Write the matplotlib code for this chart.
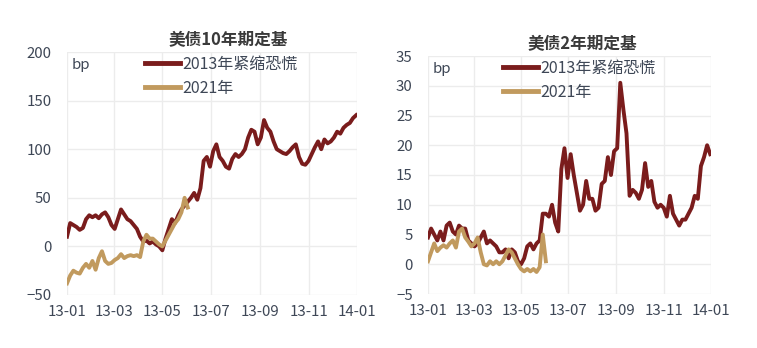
import matplotlib
matplotlib.use("Agg")
import matplotlib.pyplot as plt
import matplotlib.dates as mdates
import pandas as pd
import numpy as np

plt.rcParams['font.family'] = ['Noto Sans CJK SC', 'DejaVu Sans']

# ---------------- data ----------------
titles = ["美债10年期定基", "美债2年期定基"]
series_names = ["2013年紧缩恐慌", "2021年"]
unit = "bp"

dates_2013 = pd.date_range("2013-01-01", "2013-12-31", freq="4D")

us10_2013 = [10, 24, 22, 20, 17, 19, 28, 32, 30, 32, 29, 33, 35, 30, 22, 18, 28, 38, 33, 28,
             26, 22, 18, 10, 5, 6, 3, 5, 2, 0, -4, 8, 18, 28, 24, 32, 38, 42, 46, 50,
             55, 48, 60, 88, 92, 82, 98, 105, 92, 88, 82, 80, 90, 95, 92, 95, 100, 112, 120, 118,
             105, 112, 130, 122, 118, 108, 100, 98, 96, 95, 98, 102, 105, 92, 85, 84, 88, 95, 102, 108,
             100, 110, 106, 108, 112, 118, 116, 122, 125, 127, 132, 135]
us10_2021 = [-38, -30, -25, -27, -28, -22, -18, -22, -15, -24, -12, -5, -15, -18, -17, -14, -12, -8, -12, -10,
             -9, -10, -9, -11, 5, 12, 8, 8, 5, 2, 0, 6, 12, 18, 24, 28, 35, 50, 40]

us2_2013 = [4.5, 6, 5, 4, 5.5, 4, 6.5, 7, 5.5, 5, 6.5, 6, 6, 4, 3.5, 3, 3.5, 4.5, 5.5, 3.5,
            4, 3.5, 3, 2, 2, 2.5, 1, 2.5, 2, 0.5, 0, 1, 3, 3.5, 2.5, 3.5, 4, 8.5, 8.5, 8,
            10, 7, 5.5, 16, 19.5, 14.5, 18.5, 15, 12, 9, 10, 14, 11, 11, 9, 9.5, 13.5, 14, 18, 15,
            19, 19.5, 30.5, 26, 22, 11.5, 12.5, 12, 11, 12.5, 17, 13, 14, 10.5, 9.5, 10, 9.5, 8, 11.5, 8.5,
            7.5, 6.5, 7.5, 7.5, 8.5, 9.5, 11.5, 11, 16.5, 18, 20, 18.5]
us2_2021 = [0.5, 2, 3.5, 2.2, 2.8, 3.2, 2.8, 3.5, 4, 2.8, 5.5, 6, 4.5, 3.8, 3, 3.5, 4.5, 2, 0, -0.2,
            0.5, 0, 0.5, 0, 0.5, 1.5, 2.5, 2, 1, 0, -0.8, -1.2, -0.8, -1.2, -0.8, -1.3, -0.5, 5, 0.5]

y_limits = [(-50, 200), (-5, 35)]
y_steps = [50, 5]
x_ticks = pd.to_datetime(["2013-01-01", "2013-03-01", "2013-05-01", "2013-07-01",
                          "2013-09-01", "2013-11-01", "2014-01-01"])

# ---------------- style ----------------
c13 = "#7a1c1c"
c21 = "#c19a5e"
txt = "#3e4756"
grid_c = "#ececec"

fig = plt.figure(figsize=(7.57, 3.48), dpi=100)
ax_pos = [[67/757, 1-295/348, 290/757, 243/348],
          [428/757, 1-294/348, 283/757, 238/348]]
data = [(us10_2013, us10_2021), (us2_2013, us2_2021)]
leg_x = [(145-67)/290, (503-428)/283]
title_x = [(228-67)/290, (582-428)/283]

for i in range(2):
    ax = fig.add_axes(ax_pos[i])
    s13, s21 = data[i]
    ax.plot(dates_2013[:len(s13)], s13, color=c13, lw=2.8, label=series_names[0],
            solid_joinstyle='round', zorder=3)
    ax.plot(dates_2013[:len(s21)], s21, color=c21, lw=2.8, label=series_names[1],
            solid_joinstyle='round', zorder=4)
    ax.set_xlim(x_ticks[0], x_ticks[-1])
    lo, hi = y_limits[i]
    ax.set_ylim(lo, hi)
    ax.set_yticks(np.arange(lo, hi + 0.1, y_steps[i]))
    ax.set_xticks(x_ticks)
    ax.xaxis.set_major_formatter(mdates.DateFormatter("%y-%m"))
    ax.grid(True, color=grid_c, lw=1)
    ax.set_axisbelow(True)
    for sp in ax.spines.values():
        sp.set_visible(False)
    ax.tick_params(axis='both', length=0, labelsize=10.8, colors=txt)
    ax.tick_params(axis='y', pad=11)
    ax.tick_params(axis='x', pad=7)
    ax.set_title(titles[i], fontsize=12, fontweight='bold', color="#3a3a3a", pad=5,
                 x=title_x[i], ha='center')
    ax.text(0.015, 0.975, unit, transform=ax.transAxes, ha='left', va='top',
            fontsize=10.8, color=txt)
    leg = ax.legend(loc='upper left', bbox_to_anchor=(leg_x[i], 0.985), frameon=False,
                    fontsize=11.5, handlelength=2.2, handletextpad=0.15, labelspacing=0.45,
                    borderpad=0, borderaxespad=0)
    for t in leg.get_texts():
        t.set_color(txt)
    for l in leg.get_lines():
        l.set_linewidth(3.5)

fig.savefig("out.png", dpi=100, facecolor='white')
